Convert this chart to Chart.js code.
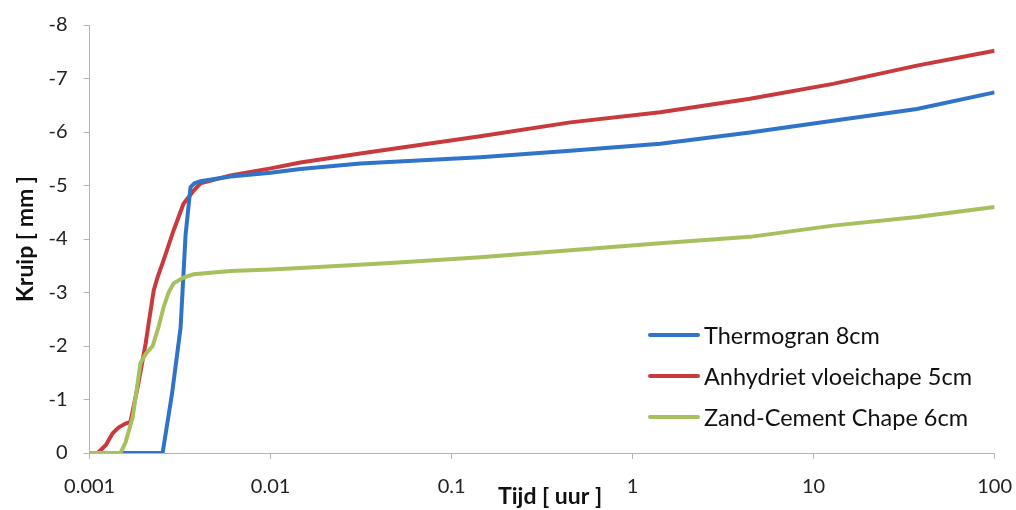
<!DOCTYPE html>
<html>
<head>
<meta charset="utf-8">
<script src="https://cdn.jsdelivr.net/npm/chart.js@4/dist/chart.umd.min.js"></script>
<style>
  html, body { margin: 0; padding: 0; background: #fff; }
  #wrap { position: relative; width: 1016px; height: 510px; }
  #legend { position: absolute; left: 648px; top: 314px; font-family: Lato, sans-serif; font-size: 23.5px; color: #111; }
  .item { display: flex; align-items: center; height: 41px; }
  .swatch { width: 52px; height: 4px; border-radius: 2px; margin-right: 4px; }
</style>
</head>
<body>
<div id="wrap">
  <canvas id="c" width="1016" height="510"></canvas>
  <div id="legend"></div>
</div>
<script>
// ---- data ----
const seriesNames = ['Thermogran 8cm', 'Anhydriet vloeichape 5cm', 'Zand-Cement Chape 6cm'];
const seriesColors = ['#2f74c8', '#c93a3c', '#a6c05e'];

const thermoT = [0.001, 0.0015, 0.0022, 0.00253, 0.00285, 0.00318, 0.00339, 0.00361, 0.0038, 0.0041, 0.006, 0.01, 0.0146, 0.0313, 0.144, 0.453, 1.42, 4.45, 12.8, 37.2, 100];
const thermoV = [0, 0, 0, 0, -1.1, -2.34, -4.08, -4.97, -5.04, -5.08, -5.17, -5.24, -5.31, -5.41, -5.53, -5.65, -5.78, -5.99, -6.21, -6.43, -6.74];

const anhyT = [0.001, 0.00111, 0.00123, 0.00134, 0.00145, 0.00158, 0.00168, 0.00186, 0.00204, 0.00212, 0.00226, 0.00237, 0.00256, 0.00291, 0.0033, 0.00375, 0.0041, 0.006, 0.01, 0.0146, 0.0313, 0.144, 0.453, 1.42, 4.45, 12.8, 37.2, 100];
const anhyV = [0, 0, -0.15, -0.37, -0.48, -0.55, -0.58, -1.3, -2.05, -2.43, -3.04, -3.28, -3.6, -4.16, -4.66, -4.9, -5.04, -5.19, -5.32, -5.43, -5.6, -5.92, -6.18, -6.37, -6.62, -6.9, -7.24, -7.52];

const zandT = [0.001, 0.00148, 0.00158, 0.00173, 0.00184, 0.00191, 0.00204, 0.00223, 0.0024, 0.00256, 0.00273, 0.00291, 0.0033, 0.00375, 0.006, 0.01, 0.0146, 0.046, 0.144, 0.453, 1.42, 4.45, 12.8, 37.2, 100];
const zandV = [0, 0, -0.2, -0.67, -1.3, -1.68, -1.85, -2.0, -2.35, -2.72, -3.0, -3.17, -3.28, -3.34, -3.4, -3.43, -3.46, -3.55, -3.66, -3.79, -3.92, -4.04, -4.25, -4.41, -4.6];

const xTicks = [0.001, 0.01, 0.1, 1, 10, 100];
const xTickLabels = ['0.001', '0.01', '0.1', '1', '10', '100'];
const yTicks = [0, -1, -2, -3, -4, -5, -6, -7, -8];
const xTitle = 'Tijd [ uur ]';
const yTitle = 'Kruip [ mm ]';

// ---- build ----
function pts(ts, vs) { return ts.map((t, i) => ({ x: t, y: vs[i] })); }
const allT = [thermoT, anhyT, zandT];
const allV = [thermoV, anhyV, zandV];
const orders = [2, 3, 1];

const datasets = seriesNames.map((n, i) => ({
  label: n,
  data: pts(allT[i], allV[i]),
  borderColor: seriesColors[i],
  backgroundColor: seriesColors[i],
  borderWidth: 4,
  pointRadius: 0,
  tension: 0,
  fill: false,
  order: orders[i]
}));

const axisColor = '#b5b5b5';
const tickFont = { family: 'Lato', size: 20 };
const titleFont = { family: 'Lato', size: 23, weight: 'bold' };

// x-axis title drawn just below the middle of the x scale (overlapping the tick-label row, as in the reference)
const xTitlePlugin = {
  id: 'xTitle',
  afterDraw(chart) {
    const { ctx, chartArea } = chart;
    ctx.save();
    ctx.font = 'bold 23px Lato';
    ctx.fillStyle = '#111';
    ctx.textAlign = 'center';
    ctx.textBaseline = 'middle';
    ctx.fillText(xTitle, (chartArea.left + chartArea.right) / 2 + 8, chartArea.bottom + 44);
    ctx.restore();
  }
};

new Chart(document.getElementById('c'), {
  type: 'line',
  data: { datasets },
  plugins: [xTitlePlugin],
  options: {
    responsive: false,
    animation: false,
    layout: { padding: { left: 12, right: 0, top: 0, bottom: 7 } },
    plugins: { legend: { display: false }, tooltip: { enabled: false } },
    scales: {
      x: {
        type: 'logarithmic',
        min: 0.001, max: 100,
        afterBuildTicks: s => { s.ticks = xTicks.map(v => ({ value: v })); },
        ticks: {
          autoSkip: false, maxRotation: 0, padding: 4, color: '#222', font: tickFont,
          callback: (v) => { const k = xTicks.indexOf(v); return k >= 0 ? xTickLabels[k] : ''; }
        },
        grid: { drawOnChartArea: false, drawTicks: true, tickLength: 18, tickBorderDash: [5, 100], color: axisColor },
        border: { color: axisColor, width: 1 }
      },
      y: {
        type: 'linear',
        min: -8, max: 0, reverse: true,
        afterBuildTicks: s => { s.ticks = yTicks.map(v => ({ value: v })); },
        ticks: { padding: 13, color: '#222', font: tickFont, callback: v => String(v) },
        grid: { drawOnChartArea: false, drawTicks: true, tickLength: 9, tickBorderDash: [0, 3, 6, 50], color: axisColor },
        border: { color: axisColor, width: 1 },
        title: { display: true, text: yTitle, color: '#111', font: titleFont, padding: { top: 0, bottom: -4 } }
      }
    }
  }
});

// legend (HTML, built from series arrays)
const lg = document.getElementById('legend');
seriesNames.forEach((n, i) => {
  const d = document.createElement('div'); d.className = 'item';
  const s = document.createElement('div'); s.className = 'swatch'; s.style.background = seriesColors[i];
  const t = document.createElement('span'); t.textContent = n;
  d.appendChild(s); d.appendChild(t); lg.appendChild(d);
});
</script>
</body>
</html>
